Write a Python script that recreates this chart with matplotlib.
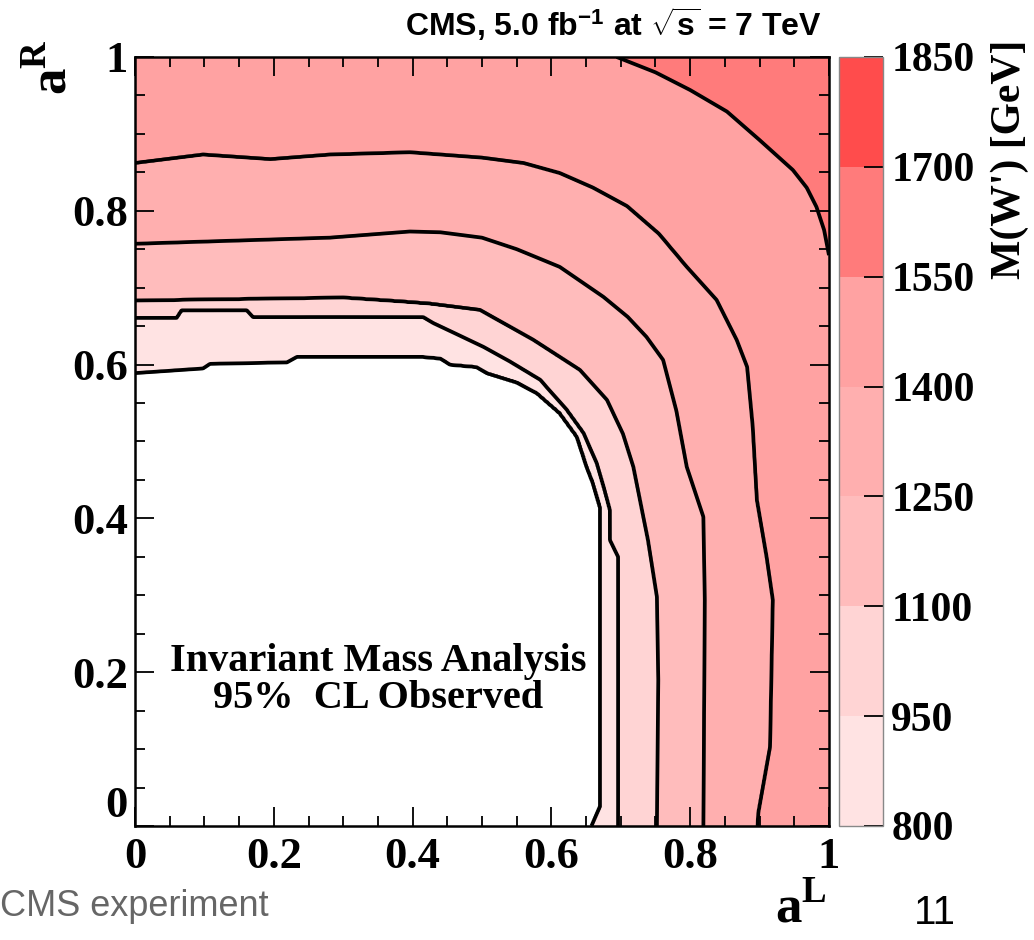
import numpy as np
import matplotlib
matplotlib.use("Agg")
import matplotlib.pyplot as plt
from matplotlib.ticker import MultipleLocator

# contour levels (GeV) and the lines, (aL, aR) from the aR axis to the aL axis
line_levels = [800, 950, 1100, 1250, 1400, 1550]
c800 = [(0.0, 0.589), (0.098, 0.595), (0.108, 0.601), (0.219, 0.603), (0.233, 0.610),
        (0.415, 0.610), (0.44, 0.608), (0.454, 0.600), (0.492, 0.597), (0.507, 0.589),
        (0.55, 0.577), (0.579, 0.563), (0.612, 0.537), (0.637, 0.506), (0.651, 0.467),
        (0.66, 0.446), (0.67, 0.415), (0.67, 0.025), (0.658, 0.0)]
c950 = [(0.0, 0.661), (0.06, 0.661), (0.067, 0.671), (0.161, 0.671), (0.170, 0.662),
        (0.415, 0.662), (0.43, 0.654), (0.502, 0.623), (0.54, 0.604), (0.584, 0.58),
        (0.622, 0.541), (0.646, 0.511), (0.665, 0.472), (0.675, 0.441), (0.684, 0.411),
        (0.684, 0.372), (0.696, 0.35), (0.696, 0.0)]
c1100 = [(0.0, 0.683), (0.30, 0.687), (0.382, 0.682), (0.425, 0.679), (0.497, 0.671),
         (0.574, 0.632), (0.641, 0.593), (0.68, 0.554), (0.703, 0.51), (0.718, 0.467),
         (0.739, 0.372), (0.752, 0.298), (0.754, 0.19), (0.752, 0.0)]
c1250 = [(0.0, 0.757), (0.281, 0.765), (0.396, 0.773), (0.44, 0.772), (0.5, 0.765),
         (0.55, 0.75), (0.612, 0.727), (0.675, 0.688), (0.71, 0.662), (0.737, 0.636),
         (0.761, 0.606), (0.78, 0.54), (0.795, 0.467), (0.819, 0.402), (0.821, 0.294),
         (0.819, 0.0)]
c1400 = [(0.0, 0.862), (0.098, 0.873), (0.195, 0.867), (0.281, 0.873), (0.396, 0.876),
         (0.5, 0.869), (0.56, 0.862), (0.612, 0.849), (0.66, 0.83), (0.709, 0.806),
         (0.755, 0.77), (0.795, 0.727), (0.838, 0.684), (0.867, 0.632), (0.882, 0.597),
         (0.89, 0.52), (0.896, 0.424), (0.91, 0.35), (0.919, 0.294), (0.915, 0.103),
         (0.898, 0.017), (0.897, 0.0)]
c1550 = [(0.0, 1.13), (0.35, 1.10), (0.60, 1.04), (0.694, 1.0), (0.75, 0.98), (0.80, 0.957),
         (0.853, 0.929), (0.90, 0.892), (0.948, 0.853), (0.968, 0.83), (0.982, 0.805),
         (0.993, 0.775), (0.999, 0.747), (1.03, 0.60), (1.07, 0.30), (1.08, 0.0)]
contour_lines = [c800, c950, c1100, c1250, c1400, c1550]

band_levels = [800, 950, 1100, 1250, 1400, 1550, 1700, 1850]
band_colors = ['#ffe3e3', '#ffd4d4', '#ffbcbc', '#ffafaf', '#ffa2a2', '#ff7b7b', '#ff4c4c']
tick_labels = ['0', '0.2', '0.4', '0.6', '0.8', '1']


def polar_profile(pts):
    p = np.array(pts)
    seg = np.hypot(*np.diff(p, axis=0).T)
    s = np.concatenate([[0], np.cumsum(seg)])
    t = np.linspace(0, s[-1], 3000)
    x = np.interp(t, s, p[:, 0])
    y = np.interp(t, s, p[:, 1])
    th = np.arctan2(y, x)
    order = np.argsort(th)
    return th[order], np.hypot(x, y)[order]


# build the mass field on a grid from the contour lines
g = np.linspace(0, 1, 801)
X, Y = np.meshgrid(g, g)
TH = np.arctan2(Y, X)
RR = np.hypot(X, Y)
R = []
for c in contour_lines:
    th, r = polar_profile(c)
    R.append(np.interp(TH, th, r))
R = np.array(R)

M = line_levels[0] * RR / R[0]
for k in range(len(line_levels) - 1):
    frac = (RR - R[k]) / (R[k + 1] - R[k])
    M = np.where((RR >= R[k]) & (RR < R[k + 1]),
                 line_levels[k] + frac * (line_levels[k + 1] - line_levels[k]), M)
step = line_levels[-1] - line_levels[-2]
outer = line_levels[-1] + (RR - R[-1]) / (R[-1] - R[-2]) * step
M = np.where(RR >= R[-1], np.minimum(outer, 1699), M)

plt.rcParams['font.family'] = 'Liberation Serif'
plt.rcParams['font.weight'] = 'bold'
plt.rcParams['mathtext.fontset'] = 'custom'
plt.rcParams['mathtext.rm'] = 'Liberation Sans:bold'
plt.rcParams['mathtext.it'] = 'Liberation Sans:bold'
plt.rcParams['mathtext.bf'] = 'Liberation Serif:bold'

fig = plt.figure(figsize=(10.34, 9.4), dpi=100)
ax = fig.add_axes([0.1306, 0.1213, 0.6711, 0.8181])
cax = fig.add_axes([0.8114, 0.1213, 0.0426, 0.8181])

cf = ax.contourf(X, Y, M, levels=band_levels, colors=band_colors)
ax.contour(X, Y, M, levels=line_levels, colors='black', linewidths=2.7)

ax.set_xlim(0, 1)
ax.set_ylim(0, 1)
ax.set_xticks(np.arange(0, 1.01, 0.2))
ax.set_yticks(np.arange(0, 1.01, 0.2))
ax.set_xticklabels(tick_labels)
ax.set_yticklabels(tick_labels)
ax.xaxis.set_minor_locator(MultipleLocator(0.05))
ax.yaxis.set_minor_locator(MultipleLocator(0.05))
ax.tick_params(which='both', direction='in', top=True, right=True, width=1.3)
ax.tick_params(which='major', length=14, labelsize=32)
ax.tick_params(axis='x', which='major', pad=8)
ax.tick_params(axis='y', which='major', pad=5)
ax.tick_params(which='minor', length=7)
for s in ax.spines.values():
    s.set_linewidth(1.8)
# lift the "0" of the aR axis a little, as in the original
ax.get_yticklabels()[0].set_verticalalignment('bottom')

ax.text(0.35, 0.19, "Invariant Mass Analysis\n95%  CL Observed", ha='center', va='center',
        fontsize=29, linespacing=1.0)

cb = fig.colorbar(cf, cax=cax, ticks=band_levels)
cb.outline.set_edgecolor('#888888')
cb.outline.set_linewidth(1.0)
cax.tick_params(direction='in', length=14, width=1.3, labelsize=30, pad=6)
fig.text(0.977, 0.958, "M(W') [GeV]", rotation=90, ha='center', va='top', fontsize=30)

fig.text(0.795, 0.962, r"CMS, 5.0 fb$^{-1}$ at $\sqrt{s}$ = 7 TeV", ha='right', va='baseline',
         family='Liberation Sans', fontsize=23)
fig.text(0.052, 0.958, r"a$^{\mathbf{R}}$", rotation=90, ha='center', va='top', fontsize=38)
fig.text(0.80, 0.006, r"a$^{\mathbf{L}}$", ha='right', va='bottom', fontsize=38)
fig.text(0.0, 0.025, "CMS experiment", ha='left', va='baseline', family='Liberation Sans',
         fontweight='normal', fontsize=26, color='#666666')
fig.text(0.884, 0.008, "11", ha='left', va='bottom', family='Liberation Sans',
         fontweight='normal', fontsize=29, color='black')

fig.savefig("out.png", dpi=100)
